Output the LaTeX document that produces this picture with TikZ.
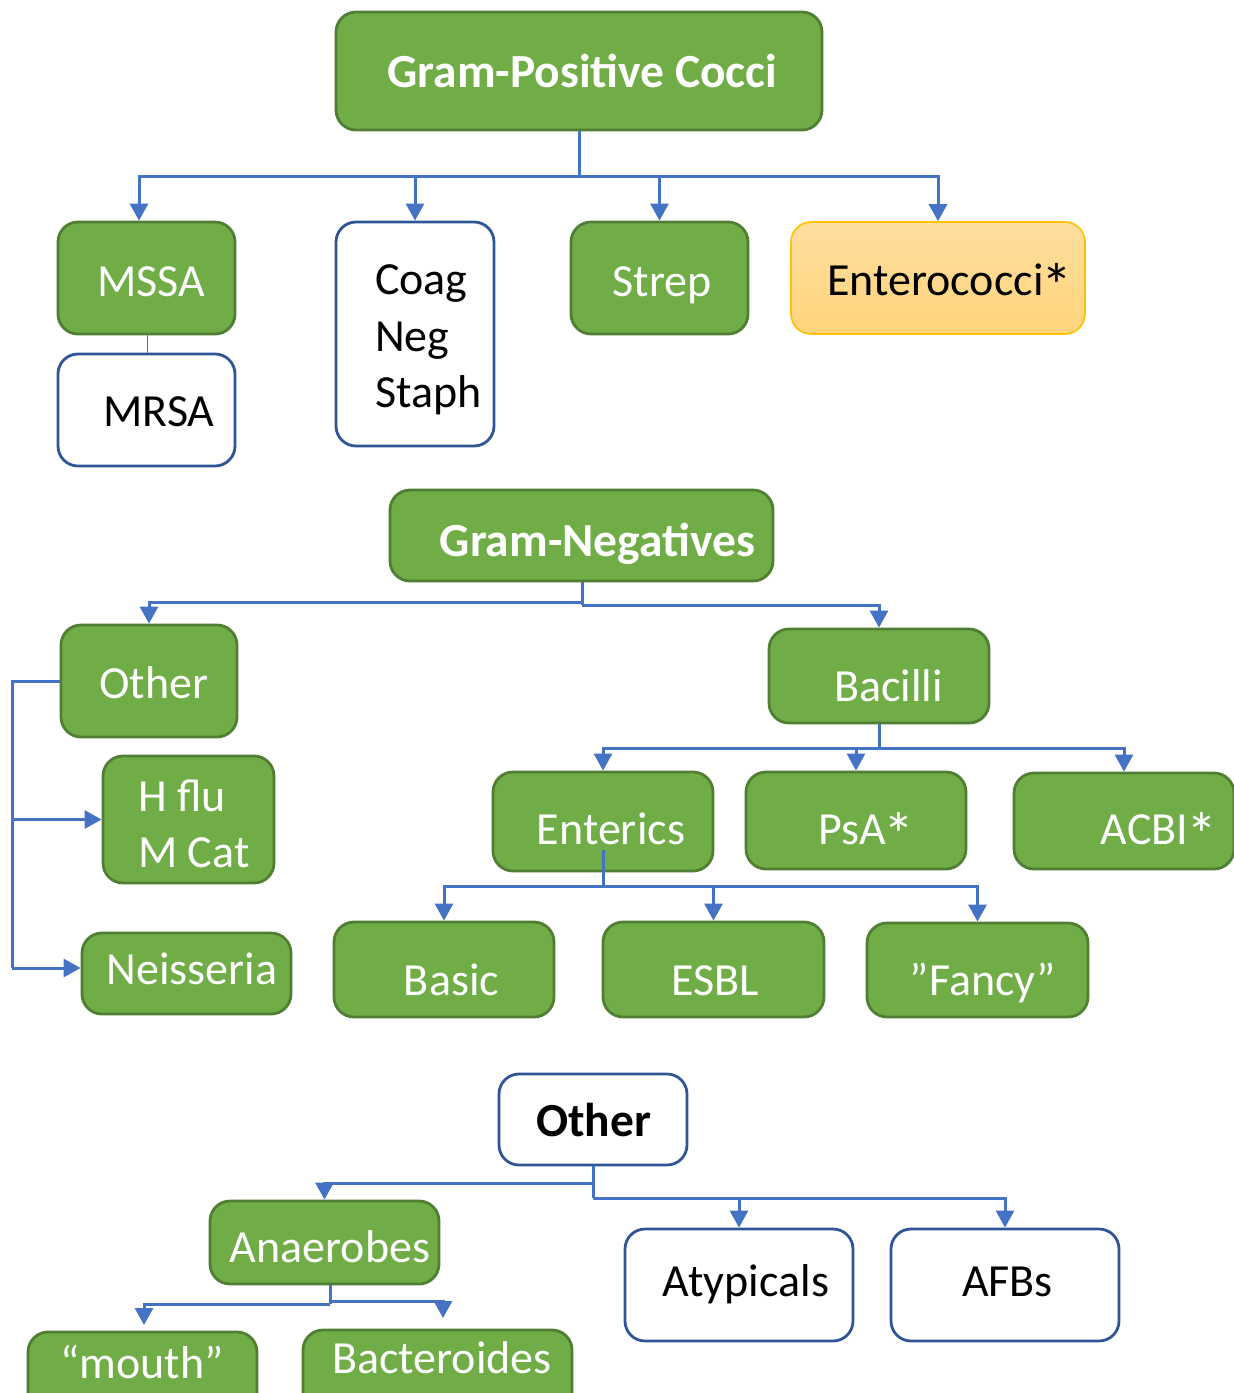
\documentclass[tikz,border=0pt]{standalone}
\usepackage{fontspec}
\setmainfont{Carlito}
\usetikzlibrary{arrows.meta}
\definecolor{grfill}{HTML}{70AD47}
\definecolor{grline}{HTML}{507E32}
\definecolor{bluel}{HTML}{4472C4}
\definecolor{bluebox}{HTML}{2F5597}
\definecolor{ortop}{HTML}{FFDE9E}
\definecolor{orbot}{HTML}{FFD47C}
\definecolor{orline}{HTML}{FFC000}
% a larger asterisk sitting at cap height
\newcommand{\bigast}{\kern-0.04em\raisebox{-0.27em}{\scalebox{1.35}{*}}}
\tikzset{
  box/.style={rectangle, rounded corners=20pt, line width=2.8pt, inner sep=0pt},
  gbox/.style={box, fill=grfill, draw=grline},
  wbox/.style={box, fill=white, draw=bluebox},
  obox/.style={box, top color=ortop, bottom color=orbot, draw=orline, line width=1.6pt},
  txt/.style={anchor=base, inner sep=0pt, yshift=2pt, font=\fontsize{46}{56}\selectfont},
  wtxt/.style={txt, text=white},
  ktxt/.style={txt, text=black},
  btxt/.style={anchor=base, inner sep=0pt, yshift=1pt, font=\fontsize{47.5}{56}\selectfont\bfseries},
  conn/.style={draw=bluel, line width=3pt},
  arr/.style={conn, -{Triangle[width=18pt,length=17pt]}},
}
\begin{document}
\begin{tikzpicture}[x=1pt,y=-1pt]
\useasboundingbox (0,0) rectangle (1234,1393);
\clip (0,0) rectangle (1234,1393);

% ---- Gram-positive cocci ----
\node[gbox, minimum width=486, minimum height=118] (gpc) at (579,71) {};
\node[btxt, text=white] (gpct) at (582.5,88) {Gram-Positive Cocci};
\node[gbox, minimum width=177, minimum height=112] (mssa) at (146.5,278) {};
\node[wtxt] (mssat) at (151,298) {MSSA};
\node[wbox, minimum width=177, minimum height=112] (mrsa) at (146.5,410) {};
\node[ktxt] (mrsat) at (159,428) {MRSA};
\node[wbox, minimum width=158, minimum height=224] (cns) at (415,334) {};
\node[ktxt, anchor=base west] (cns1) at (375,296) {Coag};
\node[ktxt, anchor=base west] (cns2) at (375,353) {Neg};
\node[ktxt, anchor=base west] (cns3) at (375,409) {Staph};
\node[gbox, minimum width=177, minimum height=112] (strep) at (659.5,278) {};
\node[wtxt] (strept) at (662,298) {Strep};
\node[obox, minimum width=294, minimum height=112] (ent) at (938,278) {};
\node[ktxt] (entt) at (950,297) {Enterococci\bigast};

\coordinate (j1) at (579,176);
\draw[conn] (gpc.south) -- (j1);
\draw[arr] (j1) -| ([xshift=-7.5pt]mssa.north);
\draw[arr] (j1) -| (cns.north);
\draw[arr] (j1) -| (strep.north);
\draw[arr] (j1) -| (ent.north);
\draw[draw=bluel, line width=1pt] ([xshift=0.5pt]mssa.south) -- ([xshift=0.5pt]mrsa.north);

% ---- Gram-negatives ----
\node[gbox, minimum width=383, minimum height=91] (gn) at (581.5,535.5) {};
\node[btxt, text=white] (gnt) at (597.5,557) {Gram-Negatives};
\node[gbox, minimum width=176, minimum height=112] (oth) at (149,681) {};
\node[wtxt] (otht) at (154,700) {Other};
\node[gbox, minimum width=171, minimum height=127] (hflu) at (188.5,819.5) {};
\node[wtxt, anchor=base west] (hflu1) at (138,813) {H flu};
\node[wtxt, anchor=base west] (hflu2) at (138,869) {M Cat};
\node[gbox, minimum width=209, minimum height=81] (neis) at (186.5,973.5) {};
\node[wtxt] (neist) at (192,986) {Neisseria};
\node[gbox, minimum width=220, minimum height=94] (bac) at (879,676) {};
\node[wtxt] (bact) at (888.5,703) {Bacilli};
\node[gbox, minimum width=220, minimum height=99] (entr) at (603,821.5) {};
\node[wtxt] (entrt) at (611,846) {Enterics};
\node[gbox, minimum width=220, minimum height=97] (psa) at (856,820.5) {};
\node[wtxt] (psat) at (866.5,846) {PsA\bigast};
\node[gbox, minimum width=220, minimum height=96] (acbi) at (1124,821) {};
\node[wtxt] (acbit) at (1159,846) {ACBI\bigast};
\node[gbox, minimum width=220, minimum height=95] (basic) at (444,969.5) {};
\node[wtxt] (basict) at (451.5,997) {Basic};
\node[gbox, minimum width=221, minimum height=95] (esbl) at (713.5,969.5) {};
\node[wtxt] (esblt) at (715.5,997) {ESBL};
\node[gbox, minimum width=221, minimum height=94] (fancy) at (977.5,970) {};
\node[wtxt] (fancyt) at (983,997) {”Fancy”};

\coordinate (j2) at (582,602);
\coordinate (j3) at (582,605);
\draw[conn] (gn.south -| j2) -- (j3);
\draw[arr] (j2) -| (oth.north);
\draw[arr] (j3) -| (bac.north);

\coordinate (j4) at (12,681);
\draw[conn] (oth.west) -- (j4) -- (12,968);
\draw[arr] (12,819.5) -- (hflu.west);
\draw[arr] (12,968) -- (neis.west |- 0,968);

\coordinate (j5) at (879,748);
\draw[conn] (bac.south) -- (j5);
\draw[arr] (j5) -| (entr.north);
\draw[arr] (j5) -| (psa.north);
\draw[arr] (j5) -| (acbi.north);

\coordinate (j6) at (603,886);
\draw[conn] (603,850) -- (j6);
\draw[arr] (j6) -| (basic.north);
\draw[arr] (j6) -| (esbl.north);
\draw[arr] (j6) -| (fancy.north);

% ---- Other organisms ----
\node[wbox, minimum width=188, minimum height=91] (oo) at (593,1119.5) {};
\node[btxt, text=black] (oot) at (593.5,1137) {Other};
\node[gbox, minimum width=229, minimum height=83] (ana) at (324.5,1242.5) {};
\node[wtxt] (anat) at (330,1264) {Anaerobes};
\node[wbox, minimum width=228, minimum height=112] (aty) at (739,1285) {};
\node[ktxt] (atyt) at (746,1298) {Atypicals};
\node[wbox, minimum width=228, minimum height=112] (afb) at (1005,1285) {};
\node[ktxt] (afbt) at (1007.5,1298) {AFBs};
\node[gbox, minimum width=229, minimum height=90] (mouth) at (142.5,1377) {};
\node[wtxt] (moutht) at (142,1380) {“mouth”};
\node[gbox, minimum width=269, minimum height=90] (bact2) at (437.5,1375) {};
\node[wtxt] (bact2t) at (442,1375) {Bacteroides};

\coordinate (j7) at (593,1183);
\coordinate (j8) at (593,1198);
\draw[conn] (oo.south) -- (j8);
\draw[arr] (j7) -| (ana.north);
\draw[arr] (j8) -| (aty.north);
\draw[arr] (j8) -| (afb.north);

\coordinate (j9) at (330,1304);
\coordinate (j10) at (330,1301);
\draw[conn] (ana.south -| j9) -- (j9);
\draw[arr] (j9) -| (144,1325);
\draw[arr] (j10) -| (443,1318);
\end{tikzpicture}
\end{document}
